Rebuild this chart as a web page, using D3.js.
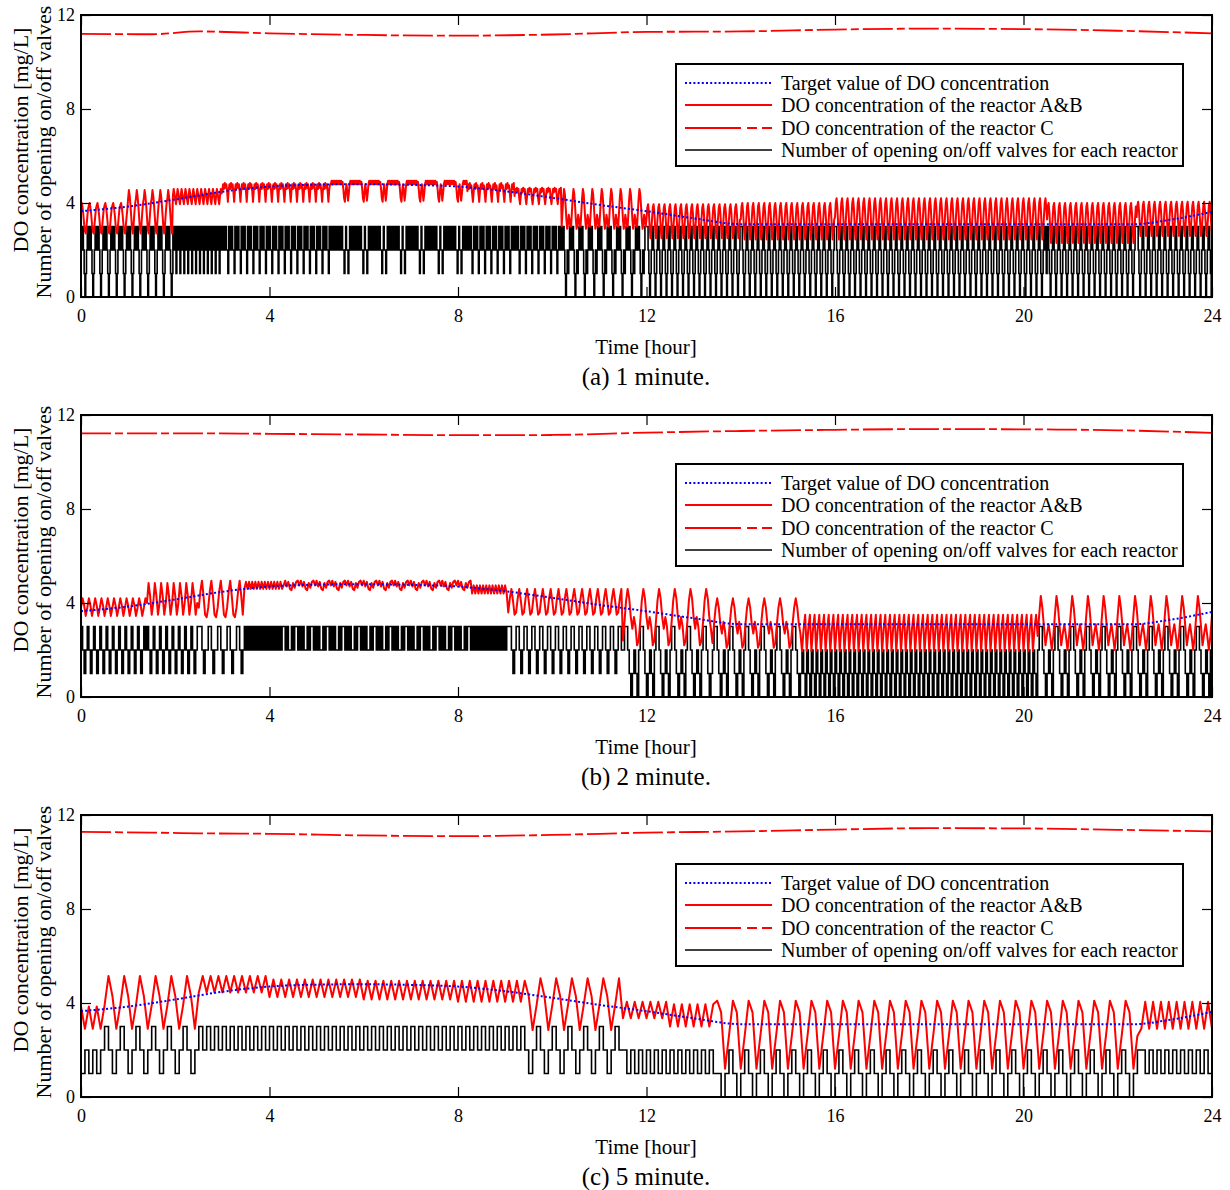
<!DOCTYPE html>
<html>
<head>
<meta charset="utf-8">
<script src="https://cdn.jsdelivr.net/npm/d3@7"></script>
<style>
  body { margin: 0; background: #fff; }
  svg text { font-family: 'Liberation Serif', 'Times New Roman', serif; fill: #000; }
</style>
</head>
<body>
<div id="chart"></div>
<script>
// tick labels and texts
const hourTicks = [0, 4, 8, 12, 16, 20, 24]
const hourMinorTicks = d3.range(0, 25, 1)
const doTicks = [0, 4, 8, 12]
const doMinorTicks = d3.range(0, 13, 1)
const legendLabels = [
  'Target value of DO concentration',
  'DO concentration of the reactor A&B',
  'DO concentration of the reactor C',
  'Number of opening on/off valves for each reactor',
]
const captions = ['(a) 1 minute.', '(b) 2 minute.', '(c) 5 minute.']
const stepMinutes = [1, 2, 5]

// target DO (same in all three panels)
const targetTimes = [0, 1, 2, 3, 4, 5, 6, 7, 8, 9, 10, 11, 12, 13, 14, 22.4, 23, 24]
const targetValues = [3.65, 3.85, 4.15, 4.48, 4.7, 4.78, 4.8, 4.77, 4.7, 4.5, 4.22, 3.92, 3.65, 3.35, 3.1, 3.1, 3.25, 3.62]

// reactor C DO
const reactorCTimes = [0, 1.5, 2.5, 4, 6, 8, 10, 12, 14, 16, 18, 20, 22, 24]
const reactorCA = [11.2, 11.18, 11.3, 11.22, 11.15, 11.12, 11.17, 11.28, 11.3, 11.38, 11.42, 11.4, 11.33, 11.22]
const reactorCB = [11.22, 11.22, 11.22, 11.2, 11.17, 11.14, 11.15, 11.25, 11.32, 11.37, 11.4, 11.39, 11.35, 11.24]
const reactorCC = [11.28, 11.25, 11.22, 11.2, 11.13, 11.1, 11.15, 11.25, 11.3, 11.38, 11.44, 11.43, 11.37, 11.3]

// repeating control cycles:
// [from hour, to hour, valve count per step, A&B DO at start of each step]
const runsA = [
  [0, 1.0, [3, 2, 3, 2, 1, 0, 1, 2, 3, 2], [3.9, 4.0, 3.8, 3.5, 3.1, 2.8, 2.7, 3.0, 3.4, 3.75]],
  [1.0, 1.95, [3, 2, 3, 2, 1, 0, 1, 2, 3, 2], [4.2, 4.55, 4.3, 3.9, 3.4, 2.9, 2.7, 3.1, 3.6, 4.0]],
  [1.95, 3.0, [3, 2, 3, 2, 1], [4.3, 4.6, 4.4, 4.15, 3.95]],
  [3.0, 5.3, [3, 2, 3, 2, 3, 2, 2, 1], [4.55, 4.8, 4.6, 4.85, 4.65, 4.8, 4.5, 4.05]],
  [5.3, 8.2, [3, 2, 3, 2, 3, 2, 3, 2, 3, 2, 3, 2, 3, 2, 3, 2, 2, 1, 2, 3, 2, 2, 1, 2],
    [4.8, 4.95, 4.8, 4.95, 4.8, 4.95, 4.8, 4.95, 4.8, 4.95, 4.8, 4.95, 4.8, 4.95, 4.8, 4.9, 4.6, 4.2, 4.05, 4.5, 4.8, 4.5, 4.1, 4.4]],
  [8.2, 9.2, [3, 2, 3, 2, 3, 2, 1, 2], [4.5, 4.8, 4.6, 4.85, 4.65, 4.75, 4.4, 4.05]],
  [9.2, 10.2, [3, 2, 3, 2, 3, 2, 1, 2], [4.3, 4.6, 4.45, 4.65, 4.5, 4.6, 4.2, 3.95]],
  [10.2, 12.0, [2, 3, 3, 2, 1, 0, 1, 2, 1, 2, 3, 3], [3.0, 3.6, 4.2, 4.6, 4.4, 3.9, 3.3, 2.9, 3.1, 3.5, 3.3, 3.0]],
  [12.0, 14.0, [3, 3, 2, 1, 0, 1, 2], [3.3, 3.8, 3.95, 3.6, 3.0, 2.5, 2.8]],
  [14.0, 16.0, [3, 3, 2, 1, 0, 1, 2], [3.3, 3.85, 4.0, 3.6, 3.0, 2.45, 2.8]],
  [16.0, 20.5, [3, 3, 2, 1, 0, 1, 2], [3.4, 4.0, 4.2, 3.8, 3.1, 2.45, 2.8]],
  [20.5, 22.4, [3, 3, 2, 1, 0, 1, 2], [3.3, 3.85, 4.0, 3.6, 2.9, 2.3, 2.7]],
  [22.4, 24.01, [3, 3, 2, 1, 0, 1, 2], [3.4, 3.9, 4.05, 3.7, 3.1, 2.6, 2.9]],
]
const runsB = [
  [0, 1.4, [3, 2, 1, 2], [3.8, 4.2, 3.9, 3.45]],
  [1.4, 2.5, [3, 2, 1, 2], [4.0, 4.85, 4.3, 3.5]],
  [2.5, 3.45, [3, 3, 2, 1, 2, 2], [3.8, 4.5, 4.95, 4.3, 3.5, 3.4]],
  [3.45, 4.3, [3, 2], [4.6, 4.9]],
  [4.3, 8.3, [3, 2, 3, 2, 2, 3, 2, 3, 3, 2], [4.75, 4.95, 4.7, 4.9, 4.6, 4.55, 4.85, 4.65, 4.9, 4.95]],
  [8.3, 9.05, [3, 2], [4.4, 4.75]],
  [9.05, 11.5, [3, 3, 2, 1, 2], [3.6, 4.2, 4.6, 4.1, 3.5]],
  [11.5, 13.4, [2, 3, 3, 2, 1, 0, 1, 2, 1, 0], [2.4, 3.2, 4.1, 4.6, 4.2, 3.4, 2.9, 3.4, 3.0, 2.2]],
  [13.4, 15.3, [2, 3, 3, 2, 1, 0, 1, 2, 1, 0], [2.3, 3.1, 3.8, 4.2, 3.8, 3.1, 2.7, 3.2, 2.8, 2.1]],
  [15.3, 20.3, [2, 1, 0], [1.95, 2.9, 3.5]],
  [20.3, 24.01, [2, 3, 3, 2, 1, 0, 1, 2, 1, 0], [2.6, 3.5, 4.3, 3.8, 3.0, 2.2, 2.7, 3.1, 2.6, 2.0]],
]
const runsC = [
  [0, 0.5, [1, 2], [3.85, 2.9]],
  [0.5, 2.5, [3, 2, 1, 2], [3.9, 5.15, 4.3, 2.9]],
  [2.5, 4.0, [3, 2], [4.45, 5.15]],
  [4.0, 6.0, [3, 2], [4.25, 5.0]],
  [6.0, 8.0, [3, 2], [4.15, 4.95]],
  [8.0, 9.5, [3, 2], [4.05, 4.95]],
  [9.5, 11.5, [1, 2, 3, 2], [4.3, 2.85, 3.9, 5.05]],
  [11.5, 12.5, [2, 1], [3.35, 4.05]],
  [12.5, 13.5, [2, 1], [3.0, 3.95]],
  [13.5, 22.4167, [1, 0, 1, 2], [4.1, 3.6, 1.2, 2.6]],
  [22.4167, 24.01, [2, 1], [2.9, 4.05]],
]

// layout
const width = 1230
const height = 1190
const panelShift = 400
const plot = { left: 81, right: 1212, top: 15, bottom: 297 }

const panels = [
  { runs: runsA, c: reactorCA, step: stepMinutes[0], caption: captions[0] },
  { runs: runsB, c: reactorCB, step: stepMinutes[1], caption: captions[1] },
  { runs: runsC, c: reactorCC, step: stepMinutes[2], caption: captions[2] },
]

const svg = d3.select('#chart').append('svg')
  .attr('width', width)
  .attr('height', height)

const x = d3.scaleLinear().domain([0, 24]).range([plot.left, plot.right])
const y = d3.scaleLinear().domain([0, 12]).range([plot.bottom, plot.top])

function buildSeries(runs, step) {
  const out = []
  const n = 24 * 60 / step
  for (let k = 0; k <= n; k++) {
    const t = k * step / 60
    const run = runs.find(r => t >= r[0] - 1e-9 && t < r[1] - 1e-9) || runs[runs.length - 1]
    const idx = Math.floor((t - run[0]) * 60 / step + 1e-6) % run[2].length
    out.push({ t: t, valve: run[2][idx], dO: run[3][idx] })
  }
  return out
}

const styles = {
  target: { stroke: '#0000ff', width: 2, dash: '2,2.2' },
  ab: { stroke: '#ff0000', width: 2, dash: null },
  c: { stroke: '#ff0000', width: 1.8, dash: '30,4,8,4' },
  valve: { stroke: '#000000', width: 1.6, dash: null },
}

function renderPanel(panel, i) {
  const g = svg.append('g').attr('transform', `translate(0,${i * panelShift})`)

  g.append('clipPath').attr('id', 'clip' + i)
    .append('rect')
    .attr('x', plot.left).attr('y', plot.top)
    .attr('width', plot.right - plot.left).attr('height', plot.bottom - plot.top)

  const series = buildSeries(panel.runs, panel.step)
  const lines = g.append('g').attr('clip-path', `url(#clip${i})`)

  // valves (step line)
  lines.append('path')
    .datum(series)
    .attr('fill', 'none')
    .attr('stroke', styles.valve.stroke)
    .attr('stroke-width', styles.valve.width)
    .attr('d', d3.line().curve(d3.curveStepAfter).x(d => x(d.t)).y(d => y(d.valve)))

  // reactor C
  lines.append('path')
    .datum(reactorCTimes.map((t, k) => ({ t: t, v: panel.c[k] })))
    .attr('fill', 'none')
    .attr('stroke', styles.c.stroke)
    .attr('stroke-width', styles.c.width)
    .attr('stroke-dasharray', styles.c.dash)
    .attr('d', d3.line().curve(d3.curveMonotoneX).x(d => x(d.t)).y(d => y(d.v)))

  // reactor A&B
  lines.append('path')
    .datum(series)
    .attr('fill', 'none')
    .attr('stroke', styles.ab.stroke)
    .attr('stroke-width', styles.ab.width)
    .attr('stroke-linejoin', 'round')
    .attr('d', d3.line().x(d => x(d.t)).y(d => y(d.dO)))

  // target
  lines.append('path')
    .datum(targetTimes.map((t, k) => ({ t: t, v: targetValues[k] })))
    .attr('fill', 'none')
    .attr('stroke', styles.target.stroke)
    .attr('stroke-width', styles.target.width)
    .attr('stroke-dasharray', styles.target.dash)
    .attr('d', d3.line().curve(d3.curveMonotoneX).x(d => x(d.t)).y(d => y(d.v)))

  // axes, ticks inward on all four sides
  const fmt = d3.format('d')
  const bottom = g.append('g').attr('transform', `translate(0,${plot.bottom})`)
  bottom.call(d3.axisBottom(x).tickValues(hourMinorTicks).tickSize(-6).tickFormat(''))
  bottom.call(d3.axisBottom(x).tickValues(hourTicks).tickSize(-10).tickPadding(12).tickFormat(fmt))
  const top = g.append('g').attr('transform', `translate(0,${plot.top})`)
  top.call(d3.axisTop(x).tickValues(hourMinorTicks).tickSize(-6).tickFormat(''))
  top.call(d3.axisTop(x).tickValues(hourTicks).tickSize(-10).tickFormat(''))
  const left = g.append('g').attr('transform', `translate(${plot.left},0)`)
  left.call(d3.axisLeft(y).tickValues(doMinorTicks).tickSize(-6).tickFormat(''))
  left.call(d3.axisLeft(y).tickValues(doTicks).tickSize(-10).tickPadding(6).tickFormat(fmt))
  const right = g.append('g').attr('transform', `translate(${plot.right},0)`)
  right.call(d3.axisRight(y).tickValues(doMinorTicks).tickSize(-6).tickFormat(''))
  right.call(d3.axisRight(y).tickValues(doTicks).tickSize(-10).tickFormat(''))

  g.selectAll('.domain').remove()
  g.selectAll('.tick line').attr('stroke', '#000').attr('stroke-width', 1.2)
  g.selectAll('.tick text').attr('font-size', 18).attr('font-family', "'Liberation Serif', serif")

  // frame
  g.append('rect')
    .attr('x', plot.left).attr('y', plot.top)
    .attr('width', plot.right - plot.left).attr('height', plot.bottom - plot.top)
    .attr('fill', 'none').attr('stroke', '#000').attr('stroke-width', 2)

  // legend
  const lg = g.append('g')
  lg.append('rect')
    .attr('x', 676).attr('y', 64).attr('width', 507).attr('height', 102)
    .attr('fill', '#fff').attr('stroke', '#000').attr('stroke-width', 2)
  const legendStyles = [styles.target, styles.ab, { stroke: '#ff0000', width: 1.8, dash: '56,6,10,5,16,100' }, styles.valve]
  const rowY = [83, 105, 128, 150]
  legendLabels.forEach((label, k) => {
    const s = legendStyles[k]
    lg.append('line')
      .attr('x1', 685).attr('x2', 772)
      .attr('y1', rowY[k]).attr('y2', rowY[k])
      .attr('stroke', s.stroke).attr('stroke-width', s.width)
      .attr('stroke-dasharray', s.dash)
    lg.append('text')
      .attr('x', 781).attr('y', rowY[k] + 7)
      .attr('font-size', 20)
      .text(label)
  })

  // axis titles
  g.append('text')
    .attr('x', 646).attr('y', 354)
    .attr('text-anchor', 'middle').attr('font-size', 21)
    .text('Time [hour]')
  g.append('text')
    .attr('x', 646).attr('y', 385)
    .attr('text-anchor', 'middle').attr('font-size', 25)
    .text(panel.caption)
  g.append('text')
    .attr('transform', 'translate(28,140) rotate(-90)')
    .attr('text-anchor', 'middle').attr('font-size', 22)
    .text('DO concentration [mg/L]')
  g.append('text')
    .attr('transform', 'translate(51,152) rotate(-90)')
    .attr('text-anchor', 'middle').attr('font-size', 22)
    .text('Number of opening on/off valves')
}

panels.forEach(renderPanel)
</script>
</body>
</html>
